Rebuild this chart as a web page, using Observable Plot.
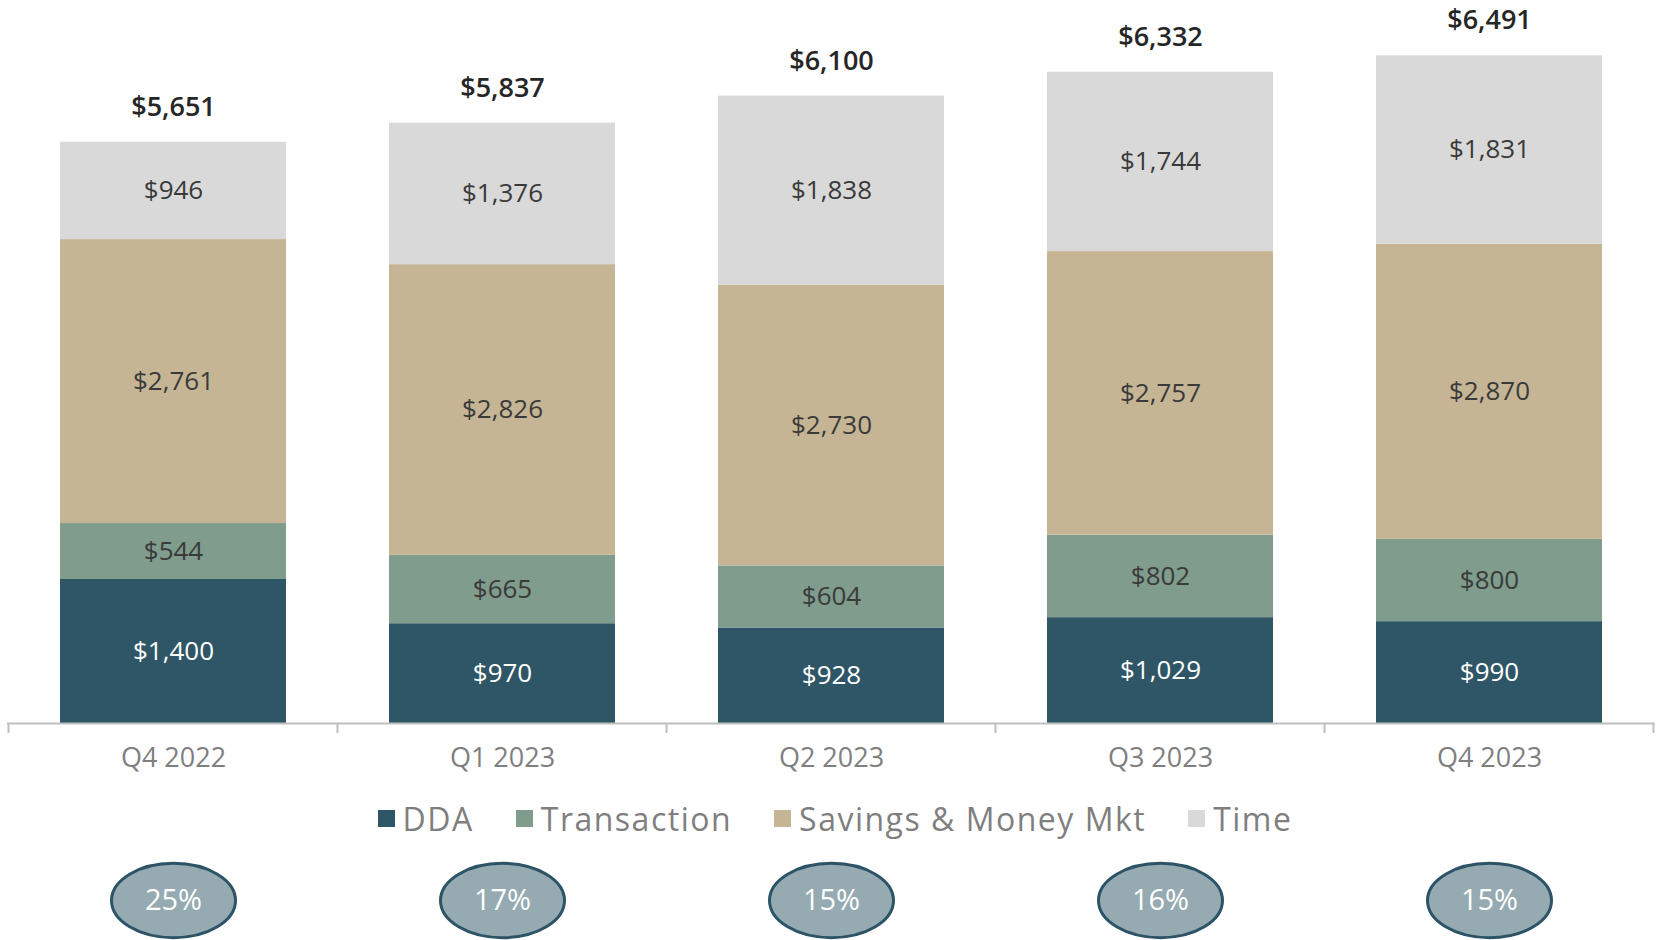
<!DOCTYPE html>
<html>
<head>
<meta charset="utf-8">
<script src="https://cdn.jsdelivr.net/npm/d3@7"></script>
<script src="https://cdn.jsdelivr.net/npm/@observablehq/plot@0.6"></script>
<style>
  html, body { margin: 0; padding: 0; background: #ffffff; }
  #wrap { width: 1656px; height: 940px; overflow: hidden; font-family: "Open Sans", sans-serif; }
  .legend { display: flex; justify-content: center; align-items: center; height: 56px; gap: 42px;
            font-size: 32px; color: #7f7f7f; letter-spacing: 1.5px; padding-left: 14px; box-sizing: border-box; }
  .legend .item { display: flex; align-items: center; gap: 8px; white-space: nowrap; }
  .legend .sw { width: 17px; height: 17px; display: inline-block; }
</style>
</head>
<body>
<div id="wrap"></div>
<script>
// ---- data ----
const quarters = ["Q4 2022", "Q1 2023", "Q2 2023", "Q3 2023", "Q4 2023"];
const seriesNames = ["DDA", "Transaction", "Savings & Money Mkt", "Time"];
const dda = [1400, 970, 928, 1029, 990];
const transaction = [544, 665, 604, 802, 800];
const savings = [2761, 2826, 2730, 2757, 2870];
const time = [946, 1376, 1838, 1744, 1831];
const totals = [5651, 5837, 6100, 6332, 6491];
const growth = [25, 17, 15, 16, 15];
const seriesColors = ["#2f5666", "#7f9c8d", "#c5b594", "#d9d9d9"];

// ---- build tables ----
const seriesValues = [dda, transaction, savings, time];
const rows = [];
quarters.forEach((q, i) => {
  seriesNames.forEach((s, j) => rows.push({quarter: q, series: s, value: seriesValues[j][i]}));
});
const totalRows = quarters.map((q, i) => ({quarter: q, total: totals[i]}));
const growthRows = quarters.map((q, i) => ({quarter: q, growth: growth[i]}));
const money = d3.format(",");

const W = 1656;
const xScale = {domain: quarters, paddingInner: 0.314, paddingOuter: 0.157, axis: null};
const FONT = "Open Sans, sans-serif";

// boundary ticks mark (drawn from the band scale)
function boundaryTicks(index, scales) {
  const sx = scales.x;
  const apply = typeof sx === "function" ? sx : sx.apply;
  const bw = typeof sx.bandwidth === "function" ? sx.bandwidth() : sx.bandwidth;
  const step = typeof sx.step === "function" ? sx.step() : sx.step;
  const sy = scales.y;
  const y0 = (typeof sy === "function" ? sy : sy.apply)(0);
  const pos = quarters.map(q => apply(q) + bw / 2 - step / 2);
  pos.push(apply(quarters[quarters.length - 1]) + bw / 2 + step / 2);
  const g = d3.create("svg:g");
  pos.forEach(p => {
    g.append("line").attr("x1", p).attr("x2", p).attr("y1", y0).attr("y2", y0 + 10)
      .attr("stroke", "#bfbfbf").attr("stroke-width", 2);
  });
  return g.node();
}

const chart = Plot.plot({
  width: W,
  height: 790,
  marginTop: 3,
  marginBottom: 67,
  marginLeft: 7,
  marginRight: 1.5,
  style: {fontFamily: FONT, background: "transparent", overflow: "visible"},
  x: xScale,
  y: {domain: [0, 7000], axis: null},
  color: {domain: seriesNames, range: seriesColors},
  marks: [
    Plot.barY(rows, {x: "quarter", y: "value", fill: "series"}),
    Plot.text(rows, Plot.stackY({
      x: "quarter", y: "value", z: "series",
      text: d => d.series === "DDA" ? "$" + money(d.value) : null,
      fill: "#ffffff", fontSize: 26, lineAnchor: "middle"
    })),
    Plot.text(rows, Plot.stackY({
      x: "quarter", y: "value", z: "series",
      text: d => d.series !== "DDA" ? "$" + money(d.value) : null,
      fill: "#3a3a3a", fontSize: 26, lineAnchor: "middle"
    })),
    Plot.text(totalRows, {
      x: "quarter", y: "total", text: d => "$" + money(d.total),
      dy: -35, fontSize: 27, fontWeight: 600, fill: "#262626", lineAnchor: "middle"
    }),
    Plot.ruleY([0], {stroke: "#bfbfbf", strokeWidth: 2}),
    boundaryTicks,
    Plot.axisX({tickSize: 0, tickPadding: 24, fontSize: 27, color: "#7f7f7f", label: null,
      letterSpacing: 1})
  ]
});

// legend
const legend = document.createElement("div");
legend.className = "legend";
seriesNames.forEach((s, i) => {
  const item = document.createElement("span");
  item.className = "item";
  const sw = document.createElement("span");
  sw.className = "sw";
  sw.style.background = seriesColors[i];
  const t = document.createElement("span");
  t.textContent = s;
  item.appendChild(sw);
  item.appendChild(t);
  legend.appendChild(item);
});

// ellipse symbol
const ellipse = {
  draw(context, size) {
    const r = Math.sqrt(size / Math.PI);
    const rx = r, ry = r * 0.6, k = 0.5522848;
    context.moveTo(rx, 0);
    context.bezierCurveTo(rx, ry * k, rx * k, ry, 0, ry);
    context.bezierCurveTo(-rx * k, ry, -rx, ry * k, -rx, 0);
    context.bezierCurveTo(-rx, -ry * k, -rx * k, -ry, 0, -ry);
    context.bezierCurveTo(rx * k, -ry, rx, -ry * k, rx, 0);
    context.closePath();
  }
};

const growthChart = Plot.plot({
  width: W,
  height: 94,
  marginTop: 14,
  marginBottom: 0,
  marginLeft: 7,
  marginRight: 1.5,
  style: {fontFamily: FONT, background: "transparent", overflow: "visible"},
  x: xScale,
  marks: [
    Plot.dot(growthRows, {x: "quarter", frameAnchor: "middle", r: 62, symbol: ellipse,
      fill: "#95aab1", stroke: "#2c5366", strokeWidth: 3}),
    Plot.text(growthRows, {x: "quarter", frameAnchor: "middle", text: d => d.growth + "%",
      fill: "#ffffff", fontSize: 29})
  ]
});

const wrap = document.getElementById("wrap");
wrap.appendChild(chart);
wrap.appendChild(legend);
wrap.appendChild(growthChart);
</script>
</body>
</html>
